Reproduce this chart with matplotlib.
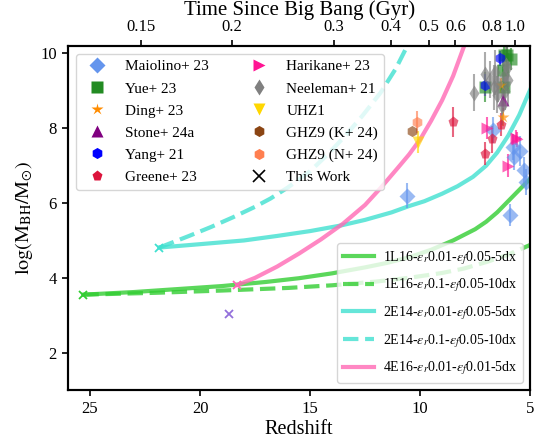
import numpy as np
import matplotlib
matplotlib.use("Agg")
import matplotlib.pyplot as plt
from matplotlib.lines import Line2D

plt.rcParams['font.family'] = ['Liberation Serif', 'DejaVu Serif']
plt.rcParams['mathtext.fontset'] = 'stix'

# --- observed black holes: redshift, log(M_BH), error ---
maiolino_z = [10.6, 6.68, 5.78, 5.48, 5.73, 5.27, 5.18, 5.93]
maiolino_m = [6.2, 7.95, 7.5, 7.4, 7.23, 6.88, 6.56, 5.68]
maiolino_e = [0.33, 0.35, 0.35, 0.4, 0.35, 0.35, 0.35, 0.3]

yue_z = [6.2, 6.05, 5.85, 6.25, 6.2, 7.05]
yue_m = [9.95, 9.95, 9.85, 9.55, 9.1, 9.1]
yue_e = [0.3, 0.3, 0.3, 0.3, 0.3, 0.4]

ding_z = [6.32, 6.23]
ding_m = [9.15, 8.3]
ding_e = [0.2, 0.25]

stone_z = [6.23]
stone_m = [8.75]
stone_e = [0.3]

yang_z = [6.36, 7.05]
yang_m = [9.87, 9.15]
yang_e = [0.2, 0.3]

greene_z = [8.5, 6.32, 6.75, 7.04]
greene_m = [8.17, 8.1, 7.7, 7.32]
greene_e = [0.4, 0.3, 0.35, 0.3]

harikane_z = [6.94, 5.64, 5.58, 5.99]
harikane_m = [8.0, 7.75, 7.7, 7.0]
harikane_e = [0.3, 0.2, 0.2, 0.3]

neeleman_z = [7.54, 7.07, 6.83, 6.6, 6.44, 6.2, 6.13, 6.07, 6.5, 6.65, 6.3, 6.0, 6.1]
neeleman_m = [8.95, 9.45, 9.3, 9.5, 9.2, 9.4, 9.0, 9.6, 8.9, 9.1, 8.6, 9.3, 9.7]
neeleman_e = [0.5, 0.6, 0.5, 0.6, 0.5, 0.6, 0.5, 0.6, 0.5, 0.6, 0.5, 0.7, 0.6]

uhz1_z, uhz1_m, uhz1_e = [10.1], [7.63], [0.3]
ghz9k_z, ghz9k_m, ghz9k_e = [10.37], [7.92], [0.0]
ghz9n_z, ghz9n_m, ghz9n_e = [10.15], [8.17], [0.3]

# --- simulation growth tracks ---
g1_z = [25.3, 23.0, 21.0, 19.0, 17.0, 15.5, 14.0, 12.5, 11.5, 10.5, 9.5, 8.5, 7.5, 7.0, 6.5, 6.0, 5.5, 5.0]
g1_m = [3.55, 3.62, 3.7, 3.78, 3.89, 3.99, 4.12, 4.28, 4.4, 4.55, 4.75, 5.0, 5.3, 5.5, 5.75, 6.05, 6.35, 6.65]
g2_z = [25.3, 22.0, 19.0, 16.0, 14.0, 12.0, 10.5, 9.0, 8.0, 7.0, 6.0, 5.0]
g2_m = [3.55, 3.6, 3.66, 3.73, 3.8, 3.9, 4.0, 4.13, 4.25, 4.42, 4.62, 4.88]
t1_z = [21.85, 20.0, 18.0, 16.5, 15.0, 13.6, 12.5, 11.3, 10.5, 9.8, 9.0, 8.3, 7.6, 7.0, 6.5, 6.0, 5.5, 5.0]
t1_m = [4.81, 4.9, 5.0, 5.12, 5.25, 5.4, 5.55, 5.75, 5.92, 6.05, 6.25, 6.45, 6.7, 7.0, 7.35, 7.8, 8.35, 9.03]
t2_z = [21.85, 20.5, 19.5, 18.5, 17.5, 16.8, 16.0, 15.0, 14.2, 13.4, 12.6, 11.8, 11.1, 10.5]
t2_m = [4.81, 5.12, 5.36, 5.62, 5.9, 6.12, 6.42, 6.85, 7.3, 7.8, 8.35, 8.95, 9.6, 10.3]
p1_z = [18.3, 17.5, 16.5, 15.5, 14.5, 13.5, 12.5, 11.8, 11.0, 10.5, 10.0, 9.5, 9.0, 8.5, 8.0]
p1_m = [3.81, 4.0, 4.3, 4.65, 5.03, 5.45, 5.95, 6.4, 6.95, 7.3, 7.7, 8.2, 8.75, 9.4, 10.2]

# seeds (this work)
seed_z = [25.3, 21.85, 18.3, 18.7]
seed_m = [3.55, 4.81, 3.81, 3.04]
seed_c = ['limegreen', 'turquoise', 'hotpink', 'mediumpurple']

age_ticks = [0.15, 0.2, 0.3, 0.4, 0.5, 0.6, 0.8, 1.0]
age_labels = ['0.15', '0.2', '0.3', '0.4', '0.5', '0.6', '0.8', '1.0']


def z_of_age(t, H0=67.7, Om=0.31):
    OL = 1 - Om
    th = 977.8 / H0 * 2 / (3 * np.sqrt(OL))
    return (np.sqrt(OL / Om) / np.sinh(np.asarray(t) / th)) ** (2 / 3) - 1


fig = plt.figure(figsize=(5.46, 4.45), dpi=100)
ax = fig.add_axes([0.1245, 0.1236, 0.8465, 0.773])

lw = 3
ax.plot(g1_z, g1_m, color='limegreen', lw=lw, alpha=0.8, label=r'1L16-$\varepsilon_r$0.01-$\varepsilon_f$0.05-5dx')
ax.plot(g2_z, g2_m, color='limegreen', lw=lw, alpha=0.8, ls='--', label=r'1E16-$\varepsilon_r$0.1-$\varepsilon_f$0.05-10dx')
ax.plot(t1_z, t1_m, color='turquoise', lw=lw, alpha=0.8, label=r'2E14-$\varepsilon_r$0.01-$\varepsilon_f$0.05-5dx')
ax.plot(t2_z, t2_m, color='turquoise', lw=lw, alpha=0.8, ls='--', label=r'2E14-$\varepsilon_r$0.1-$\varepsilon_f$0.05-10dx')
ax.plot(p1_z, p1_m, color='hotpink', lw=lw, alpha=0.8, label=r'4E16-$\varepsilon_r$0.01-$\varepsilon_f$0.01-5dx')

for z, m, c in zip(seed_z, seed_m, seed_c):
    ax.plot(z, m, 'x', color=c, ms=6, mew=1.3)

obs = [
    ('Maiolino+ 23', maiolino_z, maiolino_m, maiolino_e, 'D', 'cornflowerblue', 8),
    ('Yue+ 23', yue_z, yue_m, yue_e, 's', 'forestgreen', 8),
    ('Ding+ 23', ding_z, ding_m, ding_e, '*', 'darkorange', 9),
    ('Stone+ 24a', stone_z, stone_m, stone_e, '^', 'purple', 8),
    ('Yang+ 21', yang_z, yang_m, yang_e, 'h', 'blue', 8),
    ('Greene+ 23', greene_z, greene_m, greene_e, 'p', 'crimson', 8),
    ('Harikane+ 23', harikane_z, harikane_m, harikane_e, '>', 'deeppink', 8),
    ('Neeleman+ 21', neeleman_z, neeleman_m, neeleman_e, 'd', 'gray', 8),
    ('UHZ1', uhz1_z, uhz1_m, uhz1_e, 'v', 'gold', 8),
    ('GHZ9 (K+ 24)', ghz9k_z, ghz9k_m, ghz9k_e, 'h', 'saddlebrown', 8),
    ('GHZ9 (N+ 24)', ghz9n_z, ghz9n_m, ghz9n_e, 'h', 'coral', 8),
]

handles = []
for name, z, m, e, mk, c, ms in obs:
    ax.errorbar(z, m, yerr=e, fmt=mk, color=c, ms=ms, alpha=0.65, elinewidth=1.5, capsize=0, mec='none')
    handles.append(Line2D([], [], ls='none', marker=mk, color=c, ms=ms, mec='none', label=name))
handles.append(Line2D([], [], ls='none', marker='x', color='black', ms=8, mew=1.2, label='This Work'))

leg1 = ax.legend(handles=handles, loc='upper left', ncol=2, fontsize=11, labelspacing=0.55,
                 handletextpad=0.8, columnspacing=2.3)
ax.add_artist(leg1)
ax.legend(loc='lower right', fontsize=10, labelspacing=0.72, handlelength=2.2, handletextpad=0.7)

ax.set_xlim(26, 5)
ax.set_ylim(1, 10.2)
ax.set_xticks([25, 20, 15, 10, 5])
ax.set_yticks([2, 4, 6, 8, 10])
ax.tick_params(labelsize=12, length=4.5, width=1.2)
ax.set_xlabel('Redshift', fontsize=14.5, labelpad=2)
ax.set_ylabel(r'$\mathrm{log(M_{BH}/M_{\odot})}$', fontsize=14.5)
for s in ax.spines.values():
    s.set_linewidth(1.5)

top = ax.twiny()
top.set_xlim(ax.get_xlim())
top.set_xticks(z_of_age(age_ticks))
top.set_xticklabels(age_labels)
top.tick_params(labelsize=12, length=4.5, width=1.2)
top.set_xlabel('Time Since Big Bang (Gyr)', fontsize=15, labelpad=3)
for s in top.spines.values():
    s.set_linewidth(1.5)

fig.savefig('out.png', dpi=100)
